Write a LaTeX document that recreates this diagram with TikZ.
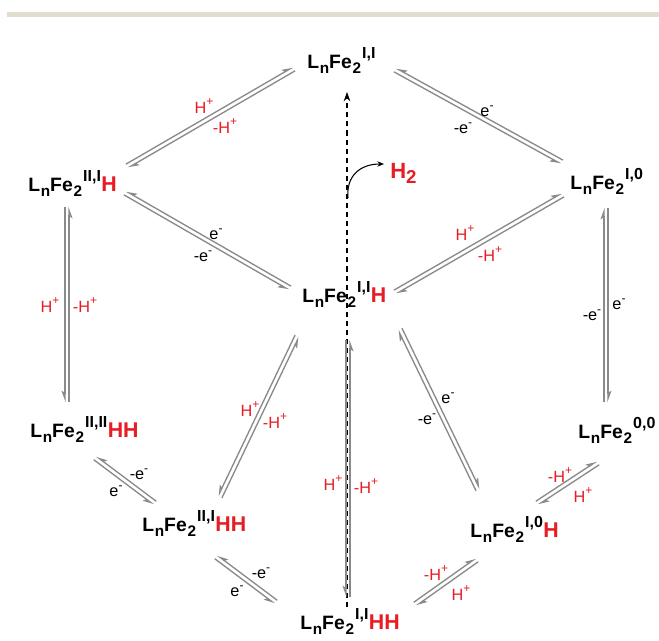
\documentclass[tikz,border=0pt]{standalone}
\usepackage{fontspec}
\setmainfont{Liberation Sans}
\usetikzlibrary{arrows.meta,calc}
\definecolor{chemred}{RGB}{232,28,36}
\definecolor{arrgray}{RGB}{138,138,138}
\definecolor{bandcol}{RGB}{225,221,207}
\newcommand\fsub[1]{\kern0.6pt\raisebox{-0.3em}{\fontsize{11.5pt}{11.5pt}\selectfont #1}}
\newcommand\fsup[1]{\kern0.8pt\raisebox{0.48em}{\fontsize{12pt}{12pt}\selectfont #1}\kern0.3pt}
\newcommand\fe[2]{L\fsub{n}Fe\fsub{2}\fsup{#1}{\fontsize{16pt}{16pt}\selectfont\textcolor{chemred}{#2}}}
\newcommand\ch[1]{\raisebox{0.45em}{\fontsize{9pt}{9pt}\selectfont #1}}
\newcommand\eqL[2]{%
  \draw[eqline,-{Stealth[left,length=7pt,width=5pt,inset=1.5pt]}] ($(#1)!1.6pt!90:(#2)$) -- ($(#2)!1.6pt!-90:(#1)$);
  \draw[eqline,-{Stealth[left,length=7pt,width=5pt,inset=1.5pt]}] ($(#2)!1.6pt!90:(#1)$) -- ($(#1)!1.6pt!-90:(#2)$);}
\newcommand\eqR[2]{%
  \draw[eqline,-{Stealth[right,length=7pt,width=5pt,inset=1.5pt]}] ($(#1)!1.6pt!-90:(#2)$) -- ($(#2)!1.6pt!90:(#1)$);
  \draw[eqline,-{Stealth[right,length=7pt,width=5pt,inset=1.5pt]}] ($(#2)!1.6pt!-90:(#1)$) -- ($(#1)!1.6pt!90:(#2)$);}
\tikzset{
  chem/.style={font=\fontsize{14.5pt}{16pt}\selectfont\bfseries,inner sep=0pt,anchor=base west},
  lab/.style={font=\fontsize{12.2pt}{14pt}\selectfont,inner sep=0pt},
  labred/.style={lab,text=chemred},
  eqline/.style={draw=arrgray,line width=1pt},
}
\begin{document}
\begin{tikzpicture}[x=0.75pt,y=-0.75pt]
\useasboundingbox (0,0) rectangle (659,640);
\fill[white] (0,0) rectangle (659,640);
\fill[bandcol] (7,12) rectangle (659,17);

% dashed line with H2 release
\coordinate (dbot) at (347,607);
\coordinate (dtop) at (347,92);
\draw[line width=0.9pt,dash pattern=on 3.8pt off 3pt,-{Stealth[length=7pt,width=5pt]}] (dbot) -- (dtop);
\coordinate (cst) at (348,198);
\coordinate (cend) at (384,164);
\draw[line width=0.8pt,-{Stealth[length=5pt,width=4pt]}] (cst) .. controls (346,176) and (360,164) .. (cend);
\node[anchor=base west,inner sep=0pt,text=chemred,font=\fontsize{16.5pt}{17pt}\selectfont\bfseries] (h2) at (390,178) {H\raisebox{-0.25em}{\fontsize{14pt}{14pt}\selectfont 2}};

% species
\node[chem] (n11)   at (307,68)  {\fe{I,I}{}};
\node[chem] (n21H)  at (28,191)  {\fe{II,I}{H}};
\node[chem] (n10)   at (570,189) {\fe{I,0}{}};
\node[chem] (n11H)  at (302,302) {\fe{I,I}{H}};
\node[chem] (n22HH) at (30,437)  {\fe{II,II}{HH}};
\node[chem] (n00)   at (578,438) {\fe{0,0}{}};
\node[chem] (n21HH) at (142,531) {\fe{II,I}{HH}};
\node[chem] (n10H)  at (470,537) {\fe{I,0}{H}};
\node[chem] (n11HH) at (300,629) {\fe{I,I}{HH}};

% equilibrium arrow ends
\coordinate (a1a) at (127,166); \coordinate (a1b) at (294,69);
\coordinate (a2a) at (395,70);  \coordinate (a2b) at (562,162);
\coordinate (a3a) at (125,193); \coordinate (a3b) at (290,288);
\coordinate (a4a) at (395,292); \coordinate (a4b) at (563,195);
\coordinate (a5a) at (67,207);  \coordinate (a5b) at (67,402);
\coordinate (a6a) at (606,208); \coordinate (a6b) at (606,402);
\coordinate (a7a) at (297,336); \coordinate (a7b) at (220,497);
\coordinate (a8a) at (348,340); \coordinate (a8b) at (348,597);
\coordinate (a9a) at (400,329); \coordinate (a9b) at (478,490);
\coordinate (a10a) at (95,458); \coordinate (a10b) at (155,503);
\coordinate (a11a) at (216,557); \coordinate (a11b) at (276,602);
\coordinate (a12a) at (537,503); \coordinate (a12b) at (598,463);
\coordinate (a13a) at (415,604); \coordinate (a13b) at (477,560);

\eqL{a1a}{a1b}
\eqR{a2a}{a2b}
\eqR{a3a}{a3b}
\eqL{a4a}{a4b}
\eqR{a5a}{a5b}
\eqL{a6a}{a6b}
\eqR{a7a}{a7b}
\eqR{a8a}{a8b}
\eqL{a9a}{a9b}
\eqR{a10a}{a10b}
\eqR{a11a}{a11b}
\eqL{a12a}{a12b}
\eqL{a13a}{a13b}

% labels
\node[labred] (l1a) at (204,106) {H\ch{+}};
\node[labred] (l1b) at (225,126) {-H\ch{+}};
\node[lab] (l2a) at (487,111) {e\ch{-}};
\node[lab] (l2b) at (463,128) {-e\ch{-}};
\node[lab] (l3a) at (216,234) {e\ch{-}};
\node[lab] (l3b) at (203,256) {-e\ch{-}};
\node[labred] (l4a) at (465,233) {H\ch{+}};
\node[labred] (l4b) at (490,254) {-H\ch{+}};
\node[labred] (l5a) at (50,305) {H\ch{+}};
\node[labred] (l5b) at (85,305) {-H\ch{+}};
\node[lab] (l6a) at (592,315) {-e\ch{-}};
\node[lab] (l6b) at (619,304) {e\ch{-}};
\node[labred] (l7a) at (250,409) {H\ch{+}};
\node[labred] (l7b) at (275,421) {-H\ch{+}};
\node[labred] (l8a) at (333,483) {H\ch{+}};
\node[labred] (l8b) at (366,486) {-H\ch{+}};
\node[lab] (l9a) at (448,398) {e\ch{-}};
\node[lab] (l9b) at (427,419) {-e\ch{-}};
\node[lab] (l10a) at (139,474) {-e\ch{-}};
\node[lab] (l10b) at (116,491) {e\ch{-}};
\node[lab] (l11a) at (261,573) {-e\ch{-}};
\node[lab] (l11b) at (237,591) {e\ch{-}};
\node[labred] (l12a) at (560,475) {-H\ch{+}};
\node[labred] (l12b) at (583,495) {H\ch{+}};
\node[labred] (l13a) at (436,573) {-H\ch{+}};
\node[labred] (l13b) at (461,593) {H\ch{+}};
\end{tikzpicture}
\end{document}
